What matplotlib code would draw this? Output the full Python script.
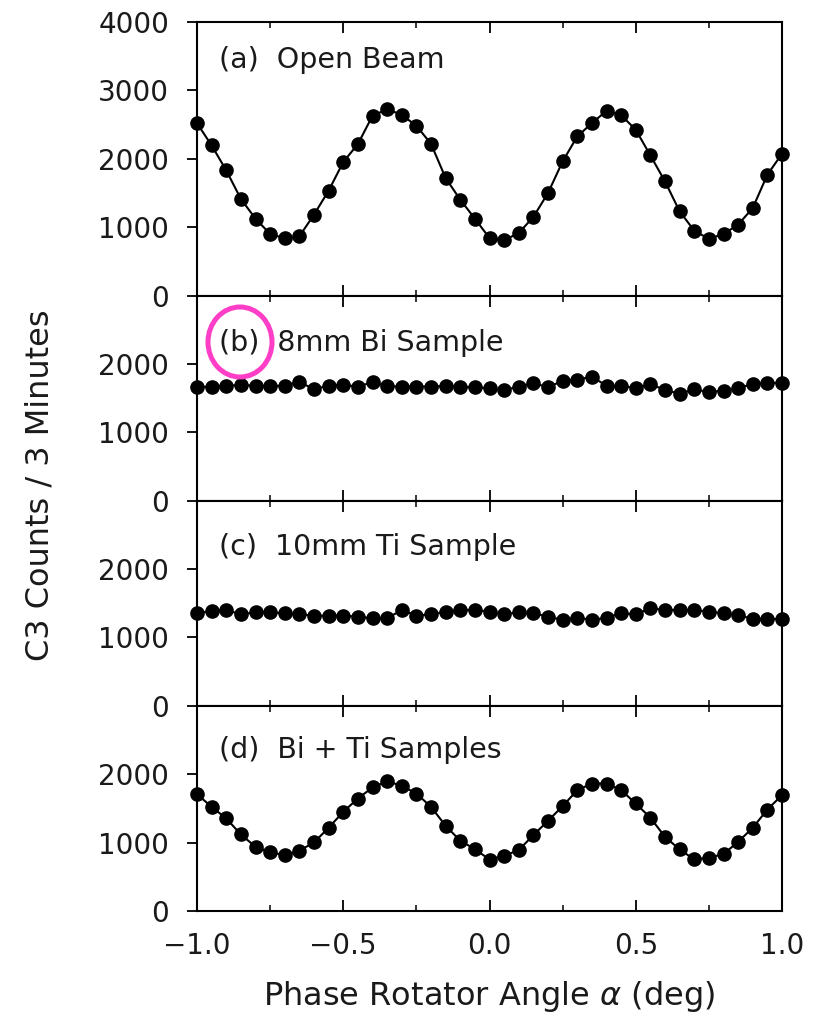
import numpy as np
import matplotlib
matplotlib.use("Agg")
import matplotlib.pyplot as plt
from matplotlib.patches import Ellipse

angle = [round(-1.0 + 0.05 * i, 2) for i in range(41)]

open_beam = [2520, 2195, 1830, 1412, 1124, 900, 837, 866, 1183, 1533,
             1952, 2215, 2628, 2725, 2643, 2482, 2219, 1718, 1402, 1124,
             840, 808, 915, 1149, 1499, 1961, 2326, 2521, 2701, 2638,
             2424, 2049, 1669, 1231, 949, 828, 900, 1037, 1280, 1767, 2073]

bi_sample = [1660, 1669, 1684, 1688, 1684, 1674, 1684, 1737, 1630, 1684,
             1693, 1669, 1732, 1674, 1669, 1669, 1669, 1674, 1660, 1660,
             1645, 1616, 1669, 1718, 1660, 1752, 1767, 1815, 1679, 1679,
             1645, 1703, 1621, 1562, 1630, 1586, 1611, 1645, 1708, 1718, 1727]

ti_sample = [1353, 1387, 1402, 1338, 1368, 1368, 1353, 1338, 1319, 1319,
             1319, 1304, 1280, 1280, 1402, 1319, 1338, 1377, 1402, 1402,
             1377, 1338, 1368, 1353, 1304, 1256, 1290, 1256, 1290, 1353,
             1338, 1426, 1402, 1402, 1402, 1377, 1353, 1329, 1270, 1270, 1270]

bi_ti = [1708, 1523, 1353, 1119, 939, 857, 818, 881, 1003, 1217,
         1450, 1645, 1806, 1898, 1830, 1718, 1523, 1246, 1027, 905,
         752, 808, 891, 1110, 1319, 1533, 1767, 1864, 1864, 1767,
         1572, 1363, 1085, 900, 754, 779, 832, 1012, 1217, 1484, 1694]

panel_labels = ["(a)  Open Beam", "(b)  8mm Bi Sample", "(c)  10mm Ti Sample", "(d)  Bi + Ti Samples"]
y_maxes = [4000, 3000, 3000, 3000]
y_ticks = [[0, 1000, 2000, 3000, 4000], [0, 1000, 2000], [0, 1000, 2000], [0, 1000, 2000]]
x_major = [-1.0, -0.5, 0.0, 0.5, 1.0]
x_minor = [-0.75, -0.25, 0.25, 0.75]
x_ticklabels = ["\u22121.0", "\u22120.5", "0.0", "0.5", "1.0"]

series = [open_beam, bi_sample, ti_sample, bi_ti]

plt.rcParams['font.family'] = ['DejaVu Sans']
TXT = '#1a1a1a'

fig = plt.figure(figsize=(8.14, 10.21), dpi=100)
gs = fig.add_gridspec(4, 1, height_ratios=y_maxes, hspace=0,
                      left=197/814, right=782/814, bottom=1-911/1021, top=1-22/1021)

label_y = [3446, 2310, 2320, 2350]
axes = []
for i in range(4):
    ax = fig.add_subplot(gs[i])
    axes.append(ax)
    ax.plot(angle, series[i], color='black', lw=1.5, marker='o', ms=9.5,
            mfc='black', mec='black', clip_on=False, zorder=3)
    ax.set_xlim(-1.0, 1.0)
    ax.set_ylim(0, y_maxes[i])
    ax.set_yticks(y_ticks[i])
    ax.set_yticklabels([str(v) for v in y_ticks[i]], fontsize=20, color=TXT)
    ax.set_xticks(x_major)
    ax.set_xticks(x_minor, minor=True)
    ax.tick_params(axis='y', direction='out', length=7, width=1.3, pad=13)
    ax.tick_params(axis='x', which='major', direction='in', length=8, width=1.3,
                   top=True, bottom=True)
    ax.tick_params(axis='x', which='minor', direction='in', length=4, width=1.1,
                   top=True, bottom=True)
    if i < 3:
        ax.set_xticklabels([])
    else:
        ax.set_xticklabels(x_ticklabels, fontsize=20, color=TXT)
        ax.tick_params(axis='x', which='major', pad=15)
    for sp in ax.spines.values():
        sp.set_linewidth(1.5)
    ax.text(-0.925, label_y[i], panel_labels[i], fontsize=20.5, ha='left', va='center',
            color=TXT)

axes[3].set_xlabel(r"Phase Rotator Angle $\alpha$ (deg)", fontsize=23, labelpad=14,
                   color=TXT)
fig.text(40/814, 1-485/1021, "C3 Counts / 3 Minutes", rotation=90, fontsize=23,
         ha='center', va='center', color=TXT)

# magenta circle around "(b)"
circ = Ellipse((240/814, 1-342/1021), 64/814, 70/1021, transform=fig.transFigure,
               fill=False, edgecolor='#ff3ec8', linewidth=3.6, zorder=10)
fig.add_artist(circ)

fig.savefig("out.png", dpi=100)
